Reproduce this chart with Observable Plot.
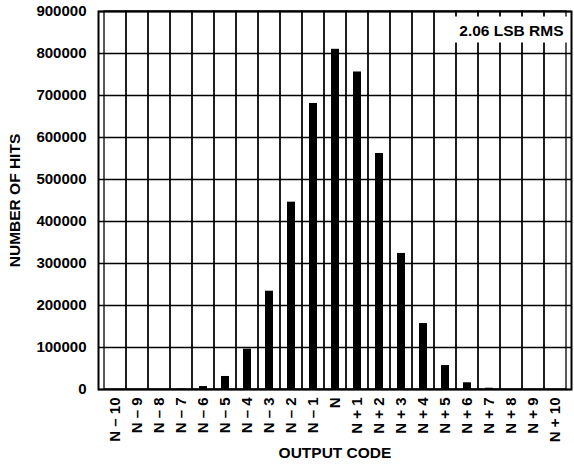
<!DOCTYPE html>
<html>
<head>
<meta charset="utf-8">
<script src="https://cdn.jsdelivr.net/npm/d3@7"></script>
<script src="https://cdn.jsdelivr.net/npm/@observablehq/plot@0.6"></script>
<style>
  html, body { margin: 0; padding: 0; background: #fff; }
  #chart { position: relative; width: 574px; height: 465px; }
  svg { font-family: "Liberation Sans", Arial, sans-serif; font-weight: bold; }
</style>
</head>
<body>
<div id="chart"></div>
<script>
const codes = ["N – 10","N – 9","N – 8","N – 7","N – 6","N – 5","N – 4","N – 3","N – 2","N – 1","N",
               "N + 1","N + 2","N + 3","N + 4","N + 5","N + 6","N + 7","N + 8","N + 9","N + 10"];
const hits = [0,0,0,1000,7000,31000,96000,234000,446000,681000,810000,
              756000,562000,324000,157000,57000,16000,3000,0,0,0];
const yTicks = [0,100000,200000,300000,400000,500000,600000,700000,800000,900000];
const annotation = "2.06 LSB RMS";
const xTitle = "OUTPUT CODE";
const yTitle = "NUMBER OF HITS";

const data = codes.map((c, i) => ({code: c, hits: hits[i]}));

const chart = Plot.plot({
  width: 574,
  height: 465,
  marginLeft: 98,
  marginRight: 3,
  marginTop: 11,
  marginBottom: 76,
  style: {fontFamily: '"Liberation Sans", Arial, sans-serif', fontSize: "15px", fontWeight: "bold", color: "black", background: "white"},
  x: {domain: codes, padding: 0},
  y: {domain: [0, 900000]},
  marks: [
    Plot.gridY(yTicks, {stroke: "black", strokeOpacity: 1, strokeWidth: 1.3}),
    Plot.cell(codes, {x: d => d, fill: "none", stroke: "black", strokeWidth: 1.3}),
    Plot.barY(data, {x: "code", y: "hits", fill: "black", insetLeft: 7, insetRight: 7}),
    Plot.frame({stroke: "black", strokeWidth: 2}),
    Plot.axisY(yTicks, {tickSize: 0, tickPadding: 12, tickFormat: d => String(d), fontSize: 15, label: null}),
    Plot.axisY({ticks: [], label: yTitle, labelAnchor: "center", labelArrow: "none", labelOffset: 90, fontSize: 15.5}),
    Plot.axisX({tickSize: 0, tickPadding: 8, tickRotate: -90, fontSize: 15, label: null}),
    Plot.axisX({ticks: [], label: xTitle, labelAnchor: "center", labelArrow: "none", labelOffset: 68, fontSize: 15.5}),
    Plot.text([annotation], {text: d => d, frameAnchor: "top-right", dx: -8, dy: 13, textAnchor: "end", fontSize: 15.5, fontWeight: "bold"})
  ]
});
document.getElementById("chart").appendChild(chart);

// white box behind the annotation
chart.querySelectorAll("text").forEach(t => {
  if (t.textContent === annotation) {
    const bb = t.getBBox();
    const r = document.createElementNS("http://www.w3.org/2000/svg", "rect");
    r.setAttribute("x", bb.x - 5);
    r.setAttribute("y", bb.y - 5);
    r.setAttribute("width", bb.width + 10);
    r.setAttribute("height", bb.height + 9);
    r.setAttribute("fill", "white");
    const tr = t.getAttribute("transform");
    if (tr) r.setAttribute("transform", tr);
    t.parentNode.insertBefore(r, t);
  }
});
</script>
</body>
</html>
